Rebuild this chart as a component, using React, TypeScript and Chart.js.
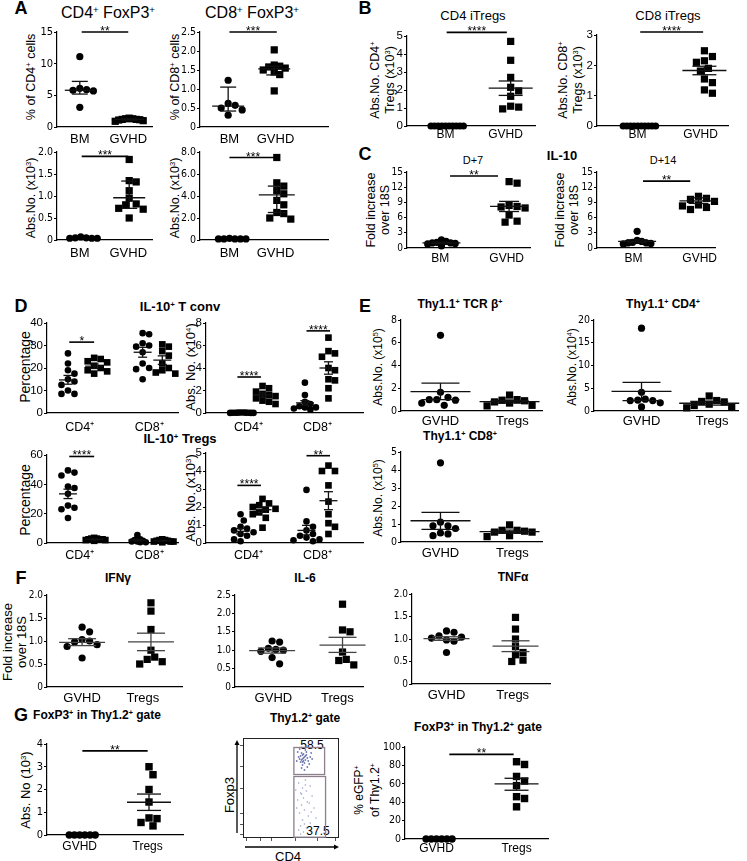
import React, { useEffect, useRef } from "react";
import { Chart, registerables } from "chart.js";
Chart.register(...registerables);

const FONT = 'Arial, "Liberation Sans", Helvetica, sans-serif';
const NARROW = '"Liberation Sans Narrow", "Arial Narrow", "DejaVu Sans Condensed", Arial, sans-serif';
Chart.defaults.font.family = FONT;
Chart.defaults.color = "#000";

// ---------------- data ----------------
// A
const a1BM = [11.1, 6.1, 5.9, 5.8, 5.7, 3.1];
const a1GVHD = [1.4, 1.3, 1.3, 1.2, 1.2, 1.15, 1.1, 1.0, 0.9];
const a1Stats = [[5.8, 5.2, 7.2], [1.2, 1.1, 1.3]];
const a2BM = [1.23, 0.62, 0.57, 0.5, 0.45, 0.31];
const a2GVHD = [2.03, 1.63, 1.6, 1.58, 1.55, 1.5, 1.45, 1.38, 0.95];
const a2Stats = [[0.55, 0.42, 1.05], [1.53, 1.37, 1.6]];
const a3BM = [0.07, 0.05, 0.04, 0.04, 0.04, 0.05];
const a3GVHD = [1.83, 1.35, 1.32, 1.12, 0.95, 0.82, 0.8, 0.72, 0.7, 0.5];
const a3Stats = [[0.05, 0.04, 0.06], [0.96, 0.72, 1.34]];
const a4BM = [0.15, 0.1, 0.1, 0.1, 0.1, 0.1];
const a4GVHD = [7.5, 5.2, 4.9, 4.5, 4.2, 3.6, 3.2, 2.5, 2.4, 2.0, 1.9];
const a4Stats = [[0.1, 0.08, 0.12], [4.1, 2.5, 4.9]];
// B
const b1BM = [0, 0, 0, 0, 0, 0, 0, 0, 0, 0];
const b1GVHD = [4.7, 3.65, 2.7, 2.15, 1.95, 1.65, 1.1, 1.05, 0.95];
const b1Stats = [2.1, 1.7, 2.5];
const b2BM = [0, 0, 0, 0, 0, 0, 0, 0, 0, 0];
const b2GVHD = [2.48, 2.29, 2.15, 2.1, 1.9, 1.81, 1.55, 1.43, 1.19, 1.08];
const b2Stats = [1.83, 1.69, 1.97];
// C
const c1BM = [1.6, 1.3, 1.1, 1.0, 1.0, 0.9, 0.8, 0.4];
const c1GVHD = [13.1, 12.8, 8.4, 8.2, 8.1, 7.9, 6.5, 5.3, 5.1];
const c1Stats = [[1.0, 0.85, 1.15], [8.2, 7.2, 9.2]];
const c2BM = [3.3, 1.5, 1.3, 1.1, 1.0, 1.0, 0.9, 0.8];
const c2GVHD = [10.2, 9.8, 9.6, 9.2, 8.5, 8.3, 8.0, 7.6];
const c2Stats = [[1.3, 1.0, 1.6], [9.3, 8.8, 9.9]];
// D  IL-10+ T conv
const dConvPctCD4c = [26.5, 22, 19, 17.5, 15, 14, 12.5, 10, 8.5, 8.5];
const dConvPctCD4s = [24.5, 24, 23, 22.5, 21, 20, 19, 18.5, 17.5];
const dConvPctCD8c = [35.5, 35, 31, 30, 29.5, 27, 22, 20, 19.5, 15];
const dConvPctCD8s = [30.5, 29.5, 27.5, 25.5, 22, 20, 19, 18, 17.5];
const dConvPctStats = [[14.7, 12.8, 16.7], [20.8, 19.8, 21.8], [27, 24.8, 29.2], [23.5, 21.6, 25.4]];
const dConvAbsCD4c = [0.05, 0.04, 0.03, 0.03, 0.02, 0.02, 0.02, 0.01, 0.01, 0.01];
const dConvAbsCD4s = [2.4, 2.2, 1.9, 1.7, 1.6, 1.5, 1.3, 1.1, 1.0, 0.8];
const dConvAbsCD8c = [2.7, 1.6, 1.0, 0.8, 0.6, 0.5, 0.5, 0.4, 0.3];
const dConvAbsCD8s = [6.7, 5.5, 5.3, 5.0, 4.0, 3.8, 3.0, 2.9, 2.2, 1.3];
const dConvAbsStats = [[0.03, 0.02, 0.04], [1.6, 1.4, 1.8], [0.9, 0.7, 1.1], [4.0, 3.45, 4.55]];
// D  IL-10+ Tregs
const dTregPctCD4c = [49.5, 48, 46, 38.5, 37.5, 33.5, 25.5, 24, 23, 17];
const dTregPctCD4s = [3.5, 3, 3, 2.5, 2.5, 2.5, 2, 2, 1.5];
const dTregPctCD8c = [5.5, 3, 2.5, 2, 1.5, 1, 1, 0.5, 0.5];
const dTregPctCD8s = [2.5, 2, 2, 1.5, 1.5, 1, 1, 1, 0.5];
const dTregPctStats = [[33.5, 30.3, 36.7], [2.5, 2.2, 2.8], [2, 1.5, 2.5], [1.5, 1.3, 1.7]];
const dTregAbsCD4c = [1.6, 1.25, 0.9, 0.8, 0.7, 0.6, 0.5, 0.4, 0.2, 0.1];
const dTregAbsCD4s = [2.45, 2.2, 2.1, 2.0, 1.9, 1.85, 1.7, 1.6, 1.4, 0.85];
const dTregAbsCD8c = [2.95, 1.2, 0.9, 0.7, 0.5, 0.4, 0.3, 0.2, 0.15, 0.1];
const dTregAbsCD8s = [4.3, 4.0, 4.0, 3.2, 2.3, 1.6, 1.1, 0.9, 0.5];
const dTregAbsStats = [[0.65, 0.5, 0.8], [1.85, 1.7, 2.0], [0.7, 0.45, 0.98], [2.35, 1.85, 2.85]];
// E
const eTcrGVHD = [6.65, 1.65, 1.2, 1.0, 1.0, 0.95, 0.7, 0.5];
const eTcrTregs = [1.4, 1.0, 0.95, 0.9, 0.8, 0.7, 0.5, 0.45];
const eTcrStats = [[1.7, 1.0, 2.45], [0.82, 0.7, 0.94]];
const eCd4GVHD = [18.2, 4.1, 2.6, 2.4, 2.3, 2.3, 1.8, 0.9];
const eCd4Tregs = [3.3, 2.3, 2.1, 2.0, 1.5, 1.2, 0.8, 0.7];
const eCd4Stats = [[4.3, 2.3, 6.3], [1.7, 1.3, 2.1]];
const eCd8GVHD = [4.4, 1.1, 0.9, 0.9, 0.75, 0.5, 0.45, 0.35];
const eCd8Tregs = [0.95, 0.65, 0.65, 0.6, 0.55, 0.55, 0.35, 0.3];
const eCd8Stats = [[1.18, 0.7, 1.65], [0.58, 0.5, 0.66]];
// F
const fIfnGVHD = [1.3, 1.2, 1.03, 1.0, 0.98, 0.92, 0.88, 0.63];
const fIfnTregs = [1.83, 1.65, 1.25, 0.8, 0.65, 0.6, 0.55, 0.5];
const fIfnStats = [[0.97, 0.9, 1.05], [0.98, 0.79, 1.17]];
const fIl6GVHD = [1.25, 1.22, 1.05, 1.02, 1.0, 0.97, 0.8, 0.63];
const fIl6Tregs = [2.25, 1.55, 1.5, 0.95, 0.75, 0.72, 0.6];
const fIl6Stats = [[0.99, 0.92, 1.06], [1.14, 0.94, 1.35]];
const fTnfGVHD = [1.18, 1.15, 1.07, 1.04, 1.02, 0.98, 0.95, 0.7];
const fTnfTregs = [1.48, 1.22, 1.0, 0.83, 0.7, 0.65, 0.53, 0.5];
const fTnfStats = [[1.01, 0.97, 1.05], [0.84, 0.72, 0.96]];
// G
const gAbsGVHD = [0, 0, 0, 0, 0, 0];
const gAbsTregs = [3.0, 2.65, 2.0, 1.45, 0.75, 0.72, 0.55, 0.4];
const gAbsStats = [1.44, 1.08, 1.8];
const gPctGVHD = [0, 0, 0, 0, 0, 0];
const gPctTregs = [84, 81, 68, 63, 58, 46, 44, 35];
const gPctStats = [60, 53, 66];
// flow plot (CD4, Foxp3) events and gates, in % of axis range
const flowGateHi = [53, 85, 63.5, 90.5];
const flowGateLo = [53, 86, 0.8, 61.5];
const flowHiCD4 = [60, 62, 64, 63, 66, 61, 65, 59, 67, 62, 64, 68, 60, 63, 66, 58, 70, 62, 65, 61, 69, 57, 72, 64, 59, 67, 56, 71, 63, 61, 65, 62];
const flowHiFoxp3 = [82, 79, 81, 77, 83, 85, 78, 79, 80, 83, 75, 77, 76, 84, 86, 81, 81, 73, 88, 70, 74, 86, 79, 68, 89, 71, 77, 85, 80, 78, 82, 76];
const flowLoCD4 = [58, 62, 65, 60, 66, 63, 57, 70, 61, 67, 64, 59, 72, 68, 62, 56, 74, 60, 66, 63, 70, 58, 76, 65, 61, 69, 55, 71, 64, 60];
const flowLoFoxp3 = [55, 50, 58, 45, 47, 40, 38, 52, 33, 36, 28, 25, 42, 22, 18, 30, 30, 12, 10, 6, 15, 8, 20, 53, 44, 35, 48, 26, 14, 4];
const flowTicksX = [4, 18, 30, 55, 78, 96];
const flowTicksY = [4, 14, 25, 50, 72, 92];

// ---------------- chart helpers ----------------
type Shape = "circle" | "rect";
interface Group { pos: number; values: number[]; shape: Shape; stats: number[] | null; sep?: number }
interface Sig { from: number; to: number; y: number; label: string }
interface Spec {
  x0: number; x1: number; yT: number; yB: number; max: number; step: number; dec: number;
  groups: Group[]; labels: string[]; labelPos: number[]; sigs: Sig[];
  r: number; sep: number; meanHalf: number; capHalf: number;
  tickFs: number; labFs: number; gap: number; lineColor?: string; lineW?: number; narrow?: boolean;
}
const G = (pos: number, values: number[], shape: Shape, stats: number[] | null, sep?: number): Group => ({ pos, values, shape, stats, sep });
const S = (from: number, to: number, y: number, label: string): Sig => ({ from, to, y, label });

function swarm(values: number[], pos: number, pxY: number, pxX: number, sep: number) {
  const placed: { x: number; y: number }[] = [];
  const out: { x: number; y: number }[] = new Array(values.length);
  const order = values.map((_, i) => i).sort((a, b) => values[b] - values[a]);
  for (const i of order) {
    const py = values[i] * pxY;
    let off = 0;
    for (let t = 0; t < 120; t++) {
      const k = Math.ceil(t / 2) * (t % 2 === 1 ? 1 : -1);
      const cand = k * sep * 0.5;
      if (placed.every((p) => (p.x - cand) ** 2 + (p.y - py) ** 2 >= sep * sep * 0.999)) { off = cand; break; }
    }
    placed.push({ x: off, y: py });
    out[i] = { x: pos + off / pxX, y: values[i] };
  }
  return out;
}

function ScatterChart({ s }: { s: Spec }) {
  const ref = useRef<HTMLCanvasElement>(null);
  const padL = 34, padT = 24, padR = 30, padB = 26;
  const W = s.x1 - s.x0 + padL + padR;
  const H = s.yB - s.yT + padT + padB;
  useEffect(() => {
    const pxY = (s.yB - s.yT) / s.max;
    const pxX = s.x1 - s.x0;
    const datasets = s.groups.map((g) => ({
      data: swarm(g.values, g.pos, pxY, pxX, g.sep ?? s.sep),
      pointStyle: g.shape,
      pointRadius: g.shape === "rect" ? s.r * 1.42 : s.r,
      backgroundColor: "#000",
      borderColor: "#000",
      borderWidth: 0,
      clip: false,
    }));
    const overlay = {
      id: "overlay",
      afterDatasetsDraw(chart: any) {
        const ctx = chart.ctx, xs = chart.scales.x, ys = chart.scales.y;
        const seg = (ax: number, ay: number, bx: number, by: number) => {
          ctx.beginPath(); ctx.moveTo(ax, ay); ctx.lineTo(bx, by); ctx.stroke();
        };
        ctx.save();
        ctx.strokeStyle = s.lineColor ?? "#111";
        ctx.lineWidth = s.lineW ?? 1.3;
        for (const g of s.groups) {
          if (!g.stats) continue;
          const [c, lo, hi] = g.stats;
          const px = xs.getPixelForValue(g.pos);
          const yc = ys.getPixelForValue(c), yl = ys.getPixelForValue(lo), yh = ys.getPixelForValue(hi);
          seg(px - s.meanHalf, yc, px + s.meanHalf, yc);
          seg(px, yl, px, yh);
          seg(px - s.capHalf, yl, px + s.capHalf, yl);
          seg(px - s.capHalf, yh, px + s.capHalf, yh);
        }
        ctx.strokeStyle = "#000";
        ctx.fillStyle = "#000";
        ctx.lineWidth = 1.6;
        ctx.font = `12px ${FONT}`;
        ctx.textAlign = "center";
        ctx.textBaseline = "alphabetic";
        for (const sg of s.sigs) {
          const y = ys.getPixelForValue(sg.y);
          const xa = xs.getPixelForValue(sg.from), xb = xs.getPixelForValue(sg.to);
          seg(xa, y, xb, y);
          ctx.fillText(sg.label, (xa + xb) / 2, y + 3);
        }
        ctx.restore();
      },
    };
    const chart = new Chart(ref.current as HTMLCanvasElement, {
      type: "scatter",
      data: { datasets } as any,
      options: {
        animation: false,
        responsive: false,
        events: [],
        layout: { padding: { top: padT, right: padR, left: 0, bottom: 0 } },
        plugins: { legend: { display: false }, tooltip: { enabled: false } },
        scales: {
          x: {
            type: "linear", min: 0, max: 1,
            grid: { display: false, drawTicks: false, tickLength: 0 },
            border: { display: true, color: "#000", width: 1.2 },
            afterBuildTicks: (ax: any) => { ax.ticks = s.labelPos.map((v) => ({ value: v })); },
            afterFit: (ax: any) => { ax.height = padB; },
            ticks: {
              autoSkip: false, maxRotation: 0, minRotation: 0, color: "#000",
              padding: Math.max(0, s.gap - s.labFs * 0.55),
              font: { size: s.labFs, family: FONT },
              callback: (_v: any, i: number) => s.labels[i],
            },
          },
          y: {
            type: "linear", min: 0, max: s.max,
            grid: { display: true, drawOnChartArea: false, drawTicks: true, tickLength: 3, color: "#000", lineWidth: 1 },
            border: { display: true, color: "#000", width: 1.2 },
            afterFit: (ax: any) => { ax.width = padL; },
            ticks: {
              stepSize: s.step, autoSkip: false, padding: 1, color: "#000",
              font: { size: s.tickFs, family: s.narrow ? NARROW : FONT },
              callback: (v: any) => (Number(v) === 0 ? "0" : Number(v).toFixed(s.dec)),
            },
          },
        },
      } as any,
      plugins: [overlay],
    });
    return () => chart.destroy();
  }, []);
  return (
    <canvas ref={ref} width={W} height={H}
      style={{ position: "absolute", left: s.x0 - padL, top: s.yT - padT, width: W, height: H }} />
  );
}

function FlowChart() {
  const ref = useRef<HTMLCanvasElement>(null);
  const x0 = 243, x1 = 339, yT = 738, yB = 838;
  const padL = 14, padT = 4, padR = 4, padB = 14;
  const W = x1 - x0 + padL + padR, H = yB - yT + padT + padB;
  useEffect(() => {
    const hi = flowHiCD4.map((x, i) => ({ x, y: flowHiFoxp3[i] }));
    const lo = flowLoCD4.map((x, i) => ({ x, y: flowLoFoxp3[i] }));
    const deco = {
      id: "deco",
      afterDatasetsDraw(chart: any) {
        const ctx = chart.ctx, xs = chart.scales.x, ys = chart.scales.y, a = chart.chartArea;
        ctx.save();
        ctx.strokeStyle = "#222"; ctx.lineWidth = 1;
        ctx.strokeRect(a.left + 0.5, a.top + 0.5, a.right - a.left - 1, a.bottom - a.top - 1);
        ctx.strokeStyle = "#8d7f8e"; ctx.lineWidth = 1.3;
        for (const gt of [flowGateHi, flowGateLo]) {
          const l = xs.getPixelForValue(gt[0]), r = xs.getPixelForValue(gt[1]);
          const t = ys.getPixelForValue(gt[3]), b = ys.getPixelForValue(gt[2]);
          ctx.strokeRect(l, t, r - l, b - t);
        }
        ctx.strokeStyle = "#000"; ctx.fillStyle = "#000"; ctx.lineWidth = 1.3;
        const ax = a.left - 6;
        ctx.beginPath(); ctx.moveTo(ax, a.bottom - 5); ctx.lineTo(ax, a.top + 6); ctx.stroke();
        ctx.beginPath(); ctx.moveTo(ax, a.top + 2); ctx.lineTo(ax - 2.5, a.top + 7); ctx.lineTo(ax + 2.5, a.top + 7); ctx.closePath(); ctx.fill();
        const ay = a.bottom + 9;
        ctx.beginPath(); ctx.moveTo(a.left + 2, ay); ctx.lineTo(a.right - 4, ay); ctx.stroke();
        ctx.beginPath(); ctx.moveTo(a.right, ay); ctx.lineTo(a.right - 5, ay - 2.5); ctx.lineTo(a.right - 5, ay + 2.5); ctx.closePath(); ctx.fill();
        ctx.restore();
      },
    };
    const chart = new Chart(ref.current as HTMLCanvasElement, {
      type: "scatter",
      data: {
        datasets: [
          { data: hi, pointRadius: 0.9, backgroundColor: "#6f78b0", borderWidth: 0 },
          { data: lo, pointRadius: 0.8, backgroundColor: "#9aa0c8", borderWidth: 0 },
        ],
      } as any,
      options: {
        animation: false, responsive: false, events: [],
        layout: { padding: { top: padT, right: padR, left: 0, bottom: 0 } },
        plugins: { legend: { display: false }, tooltip: { enabled: false } },
        scales: {
          x: {
            min: 0, max: 100, border: { display: false },
            grid: { display: true, drawOnChartArea: false, tickLength: 3, color: "#555" },
            ticks: { display: false },
            afterBuildTicks: (s: any) => { s.ticks = flowTicksX.map((v) => ({ value: v })); },
            afterFit: (s: any) => { s.height = padB; },
          },
          y: {
            min: 0, max: 100, border: { display: false },
            grid: { display: true, drawOnChartArea: false, tickLength: 3, color: "#555" },
            ticks: { display: false },
            afterBuildTicks: (s: any) => { s.ticks = flowTicksY.map((v) => ({ value: v })); },
            afterFit: (s: any) => { s.width = padL; },
          },
        },
      } as any,
      plugins: [deco],
    });
    return () => chart.destroy();
  }, []);
  return (
    <canvas ref={ref} width={W} height={H}
      style={{ position: "absolute", left: x0 - padL, top: yT - padT, width: W, height: H }} />
  );
}

// ---------------- chart specs ----------------
const BM_GVHD = ["BM", "GVHD"];
const GVHD_TREGS = ["GVHD", "Tregs"];
const CD48 = ["CD4\u207A", "CD8\u207A"];

const SPECS: Spec[] = [
  // A
  { x0: 57, x1: 152, yT: 32, yB: 127, max: 15, step: 5, dec: 0,
    groups: [G(0.24, a1BM, "circle", a1Stats[0]), G(0.76, a1GVHD, "rect", a1Stats[1], 3.5)],
    labels: BM_GVHD, labelPos: [0.24, 0.75], sigs: [S(0.26, 0.75, 15, "**")],
    r: 3.6, sep: 6.8, meanHalf: 15, capHalf: 8, tickFs: 11, labFs: 13, gap: 12, narrow: true },
  { x0: 200, x1: 328, yT: 32, yB: 127, max: 2.5, step: 0.5, dec: 1,
    groups: [G(0.22, a2BM, "circle", a2Stats[0]), G(0.58, a2GVHD, "rect", a2Stats[1], 5.5)],
    labels: BM_GVHD, labelPos: [0.23, 0.59], sigs: [S(0.23, 0.6, 2.5, "***")],
    r: 3.6, sep: 7, meanHalf: 16, capHalf: 8, tickFs: 10.5, labFs: 13, gap: 12, narrow: true },
  { x0: 57, x1: 152, yT: 152, yB: 240, max: 2, step: 0.5, dec: 1,
    groups: [G(0.25, a3BM, "circle", null, 5.5), G(0.76, a3GVHD, "rect", a3Stats[1])],
    labels: BM_GVHD, labelPos: [0.24, 0.75], sigs: [S(0.26, 0.75, 1.9, "***")],
    r: 3.6, sep: 7, meanHalf: 16, capHalf: 8, tickFs: 10.5, labFs: 13, gap: 13, narrow: true },
  { x0: 200, x1: 328, yT: 152, yB: 240, max: 8, step: 2, dec: 1,
    groups: [G(0.23, a4BM, "circle", null, 5.5), G(0.6, a4GVHD, "rect", a4Stats[1])],
    labels: BM_GVHD, labelPos: [0.23, 0.59], sigs: [S(0.23, 0.6, 7.5, "***")],
    r: 3.6, sep: 7, meanHalf: 18, capHalf: 9, tickFs: 10.5, labFs: 13, gap: 13, narrow: true },
  // B
  { x0: 407, x1: 535, yT: 36, yB: 126, max: 5, step: 1, dec: 0,
    groups: [G(0.3, b1BM, "circle", null, 3.6), G(0.81, b1GVHD, "rect", b1Stats)],
    labels: BM_GVHD, labelPos: [0.3, 0.77], sigs: [S(0.31, 0.78, 5.2, "****")],
    r: 3.6, sep: 8, meanHalf: 22, capHalf: 12, tickFs: 11.5, labFs: 12, gap: 8 },
  { x0: 597, x1: 728, yT: 35, yB: 126, max: 3, step: 1, dec: 0,
    groups: [G(0.31, b2BM, "circle", null, 3.6), G(0.82, b2GVHD, "rect", b2Stats)],
    labels: BM_GVHD, labelPos: [0.31, 0.79], sigs: [S(0.33, 0.81, 3.1, "****")],
    r: 3.6, sep: 8, meanHalf: 22, capHalf: 12, tickFs: 11.5, labFs: 12, gap: 8 },
  // C
  { x0: 407, x1: 530, yT: 172, yB: 248, max: 15, step: 3, dec: 0,
    groups: [G(0.28, c1BM, "circle", c1Stats[0], 4.6), G(0.83, c1GVHD, "rect", c1Stats[1])],
    labels: BM_GVHD, labelPos: [0.27, 0.81], sigs: [S(0.35, 0.74, 14.2, "**")],
    r: 3.6, sep: 8, meanHalf: 19, capHalf: 10, tickFs: 10, labFs: 12, gap: 10, narrow: true },
  { x0: 597, x1: 715, yT: 172, yB: 248, max: 15, step: 3, dec: 0,
    groups: [G(0.34, c2BM, "circle", c2Stats[0], 4.6), G(0.86, c2GVHD, "rect", c2Stats[1])],
    labels: BM_GVHD, labelPos: [0.31, 0.87], sigs: [S(0.39, 0.79, 13.2, "**")],
    r: 3.6, sep: 8, meanHalf: 19, capHalf: 10, tickFs: 10, labFs: 12, gap: 10, narrow: true },
  // D  T conv
  { x0: 47, x1: 178, yT: 323, yB: 413, max: 40, step: 10, dec: 0,
    groups: [G(0.16, dConvPctCD4c, "circle", dConvPctStats[0]), G(0.36, dConvPctCD4s, "rect", dConvPctStats[1]),
             G(0.73, dConvPctCD8c, "circle", dConvPctStats[2]), G(0.88, dConvPctCD8s, "rect", dConvPctStats[3])],
    labels: CD48, labelPos: [0.25, 0.78], sigs: [S(0.17, 0.36, 31.5, "*")],
    r: 3.3, sep: 6.5, meanHalf: 9, capHalf: 4.5, tickFs: 11.5, labFs: 12.5, gap: 14 },
  { x0: 206, x1: 363, yT: 323, yB: 413, max: 8, step: 2, dec: 0,
    groups: [G(0.22, dConvAbsCD4c, "circle", null, 2.6), G(0.36, dConvAbsCD4s, "rect", dConvAbsStats[1]),
             G(0.63, dConvAbsCD8c, "circle", dConvAbsStats[2], 5.5), G(0.78, dConvAbsCD8s, "rect", dConvAbsStats[3])],
    labels: CD48, labelPos: [0.27, 0.71], sigs: [S(0.2, 0.35, 3.2, "****"), S(0.64, 0.79, 7.3, "****")],
    r: 3.3, sep: 6.5, meanHalf: 9, capHalf: 4.5, tickFs: 11.5, labFs: 12.5, gap: 14 },
  // D  Tregs
  { x0: 47, x1: 178, yT: 455, yB: 543, max: 60, step: 20, dec: 0,
    groups: [G(0.16, dTregPctCD4c, "circle", dTregPctStats[0]), G(0.36, dTregPctCD4s, "rect", dTregPctStats[1], 2.8),
             G(0.69, dTregPctCD8c, "circle", dTregPctStats[2], 2.8), G(0.88, dTregPctCD8s, "rect", dTregPctStats[3], 2.8)],
    labels: CD48, labelPos: [0.25, 0.78], sigs: [S(0.17, 0.36, 59, "****")],
    r: 3.3, sep: 6.5, meanHalf: 9, capHalf: 4.5, tickFs: 11.5, labFs: 12.5, gap: 12 },
  { x0: 206, x1: 363, yT: 453, yB: 543, max: 5, step: 1, dec: 0,
    groups: [G(0.22, dTregAbsCD4c, "circle", dTregAbsStats[0]), G(0.36, dTregAbsCD4s, "rect", dTregAbsStats[1]),
             G(0.64, dTregAbsCD8c, "circle", dTregAbsStats[2]), G(0.78, dTregAbsCD8s, "rect", dTregAbsStats[3])],
    labels: CD48, labelPos: [0.27, 0.71], sigs: [S(0.2, 0.35, 3.2, "****"), S(0.64, 0.79, 4.85, "**")],
    r: 3.3, sep: 6.5, meanHalf: 9, capHalf: 4.5, tickFs: 11.5, labFs: 12.5, gap: 12 },
  // E
  { x0: 401, x1: 542, yT: 320, yB: 411, max: 8, step: 2, dec: 0,
    groups: [G(0.28, eTcrGVHD, "circle", eTcrStats[0]), G(0.77, eTcrTregs, "rect", eTcrStats[1])],
    labels: GVHD_TREGS, labelPos: [0.28, 0.79], sigs: [],
    r: 3.6, sep: 7.5, meanHalf: 30, capHalf: 19, tickFs: 10.5, labFs: 13, gap: 10, narrow: true },
  { x0: 594, x1: 738, yT: 320, yB: 411, max: 20, step: 5, dec: 0,
    groups: [G(0.33, eCd4GVHD, "circle", eCd4Stats[0]), G(0.8, eCd4Tregs, "rect", eCd4Stats[1])],
    labels: GVHD_TREGS, labelPos: [0.33, 0.82], sigs: [],
    r: 3.6, sep: 7.5, meanHalf: 30, capHalf: 19, tickFs: 10.5, labFs: 13, gap: 10, narrow: true },
  { x0: 401, x1: 542, yT: 452, yB: 542, max: 5, step: 1, dec: 0,
    groups: [G(0.28, eCd8GVHD, "circle", eCd8Stats[0]), G(0.77, eCd8Tregs, "rect", eCd8Stats[1])],
    labels: GVHD_TREGS, labelPos: [0.28, 0.79], sigs: [],
    r: 3.6, sep: 7.5, meanHalf: 30, capHalf: 19, tickFs: 10.5, labFs: 13, gap: 11, narrow: true },
  // F
  { x0: 47, x1: 182, yT: 595, yB: 687, max: 2, step: 0.5, dec: 1,
    groups: [G(0.26, fIfnGVHD, "circle", fIfnStats[0]), G(0.77, fIfnTregs, "rect", fIfnStats[1])],
    labels: GVHD_TREGS, labelPos: [0.26, 0.71], sigs: [],
    r: 3.6, sep: 7.5, meanHalf: 23, capHalf: 14, tickFs: 10, labFs: 13, gap: 11, lineColor: "#444", narrow: true },
  { x0: 235, x1: 363, yT: 595, yB: 687, max: 2.5, step: 0.5, dec: 1,
    groups: [G(0.29, fIl6GVHD, "circle", fIl6Stats[0]), G(0.84, fIl6Tregs, "rect", fIl6Stats[1])],
    labels: GVHD_TREGS, labelPos: [0.3, 0.8], sigs: [],
    r: 3.6, sep: 7.5, meanHalf: 23, capHalf: 14, tickFs: 10, labFs: 13, gap: 11, lineColor: "#444", narrow: true },
  { x0: 412, x1: 550, yT: 594, yB: 684, max: 2, step: 0.5, dec: 1,
    groups: [G(0.25, fTnfGVHD, "circle", fTnfStats[0]), G(0.75, fTnfTregs, "rect", fTnfStats[1])],
    labels: GVHD_TREGS, labelPos: [0.25, 0.73], sigs: [],
    r: 3.6, sep: 7.5, meanHalf: 23, capHalf: 14, tickFs: 10, labFs: 13, gap: 11, lineColor: "#444", narrow: true },
  // G
  { x0: 47, x1: 183, yT: 744, yB: 835, max: 4, step: 1, dec: 0,
    groups: [G(0.24, gAbsGVHD, "circle", null, 5.2), G(0.75, gAbsTregs, "rect", gAbsStats)],
    labels: GVHD_TREGS, labelPos: [0.24, 0.74], sigs: [S(0.26, 0.74, 3.7, "**")],
    r: 3.7, sep: 8, meanHalf: 22, capHalf: 12, tickFs: 11, labFs: 12, gap: 11, narrow: true },
  { x0: 405, x1: 548, yT: 747, yB: 839, max: 100, step: 20, dec: 0,
    groups: [G(0.22, gPctGVHD, "circle", null, 5.2), G(0.78, gPctTregs, "rect", gPctStats)],
    labels: GVHD_TREGS, labelPos: [0.22, 0.78], sigs: [S(0.31, 0.76, 92, "**")],
    r: 3.7, sep: 8, meanHalf: 22, capHalf: 12, tickFs: 10.5, labFs: 12, gap: 9, narrow: true },
];

// ---------------- text helpers ----------------
function rich(text: string) {
  const parts = text.split(/\^(\S)/);
  return parts.map((p, i) =>
    i % 2 === 1 ? (
      <span key={i} style={{ fontSize: "0.6em", position: "relative", top: "-0.55em" }}>{p}</span>
    ) : (
      <React.Fragment key={i}>{p}</React.Fragment>
    )
  );
}

function T({ x, y, s = 12, b = false, r = false, t }: { x: number; y: number; s?: number; b?: boolean; r?: boolean; t: string }) {
  return (
    <div
      style={{
        position: "absolute", left: x, top: y,
        transform: `translate(-50%, -50%)${r ? " rotate(-90deg)" : ""}`,
        fontSize: s, fontWeight: b ? 700 : 400, fontFamily: FONT, whiteSpace: "nowrap",
        lineHeight: 1, color: "#000",
      }}
    >
      {rich(t)}
    </div>
  );
}

export default function App() {
  return (
    <div style={{ position: "absolute", left: 0, top: 0, width: 747, height: 861, background: "#fff", overflow: "hidden" }}>
      {/* panel letters */}
      <T x={21} y={8} s={18} b t="A" />
      <T x={365} y={8} s={18} b t="B" />
      <T x={365} y={154} s={18} b t="C" />
      <T x={21} y={306} s={18} b t="D" />
      <T x={365} y={306} s={18} b t="E" />
      <T x={21} y={578} s={18} b t="F" />
      <T x={21} y={715} s={18} b t="G" />

      {/* A */}
      <T x={108} y={13} s={16} t="CD4^+ FoxP3^+" />
      <T x={252} y={13} s={16} t="CD8^+ FoxP3^+" />
      <T x={31} y={77} s={12.5} r t="% of CD4^+ cells" />
      <T x={175} y={77} s={12.5} r t="% of CD8^+ cells" />
      <T x={31} y={198} s={12.5} r t="Abs.No. (x10^3)" />
      <T x={175} y={198} s={12.5} r t="Abs.No. (x10^3)" />

      {/* B */}
      <T x={473} y={15} s={13} t="CD4 iTregs" />
      <T x={668} y={15} s={13} t="CD8 iTregs" />
      <T x={375} y={80} s={12.5} r t="Abs.No. CD4^+" />
      <T x={390} y={80} s={12.5} r t="Tregs (x10^3)" />
      <T x={563} y={80} s={12.5} r t="Abs.No. CD8^+" />
      <T x={578} y={80} s={12.5} r t="Tregs (x10^3)" />

      {/* C */}
      <T x={473} y={160} s={11} t="D+7" />
      <T x={562} y={155} s={13} b t="IL-10" />
      <T x={663} y={160} s={11} t="D+14" />
      <T x={371} y={210} s={12.5} r t="Fold increase" />
      <T x={385} y={210} s={12.5} r t="over 18S" />
      <T x={560} y={210} s={12.5} r t="Fold increase" />
      <T x={574} y={210} s={12.5} r t="over 18S" />

      {/* D */}
      <T x={180} y={306} s={13} b t="IL-10^+ T conv" />
      <T x={180} y={438} s={13} b t="IL-10^+ Tregs" />
      <T x={25} y={367} s={14} r t="Percentage" />
      <T x={190} y={367} s={13} r t="Abs. No. (x10^4)" />
      <T x={25} y={500} s={14} r t="Percentage" />
      <T x={190} y={498} s={13} r t="Abs. No. (x10^3)" />

      {/* E */}
      <T x={460} y={304} s={12} b t="Thy1.1^+ TCR β^+" />
      <T x={663} y={304} s={12} b t="Thy1.1^+ CD4^+" />
      <T x={460} y={436} s={12} b t="Thy1.1^+ CD8^+" />
      <T x={378} y={367} s={12} r t="Abs.No. (x10^5)" />
      <T x={572} y={367} s={12} r t="Abs.No. (x10^4)" />
      <T x={378} y={498} s={12} r t="Abs.No. (x10^5)" />

      {/* F */}
      <T x={118} y={578} s={12} b t="IFNγ" />
      <T x={305} y={578} s={12} b t="IL-6" />
      <T x={513} y={577} s={12} b t="TNFα" />
      <T x={7} y={642} s={13} r t="Fold increase" />
      <T x={21} y={642} s={13} r t="over 18S" />

      {/* G */}
      <T x={97} y={715} s={12} b t="FoxP3^+ in Thy1.2^+ gate" />
      <T x={305} y={718} s={12} b t="Thy1.2^+ gate" />
      <T x={478} y={727} s={12} b t="FoxP3^+ in Thy1.2^+ gate" />
      <T x={25} y={790} s={13} r t="Abs. No (10^3)" />
      <T x={359} y={790} s={12} r t="% eGFP^+" />
      <T x={375} y={790} s={12} r t="of Thy1.2^+" />
      <T x={229} y={795} s={13} r t="Foxp3" />
      <T x={288} y={856} s={13} t="CD4" />
      <T x={312} y={745} s={12} t="58.5" />
      <T x={318} y={831} s={12} t="37.5" />

      {SPECS.map((s, i) => (
        <ScatterChart key={i} s={s} />
      ))}
      <FlowChart />
    </div>
  );
}
